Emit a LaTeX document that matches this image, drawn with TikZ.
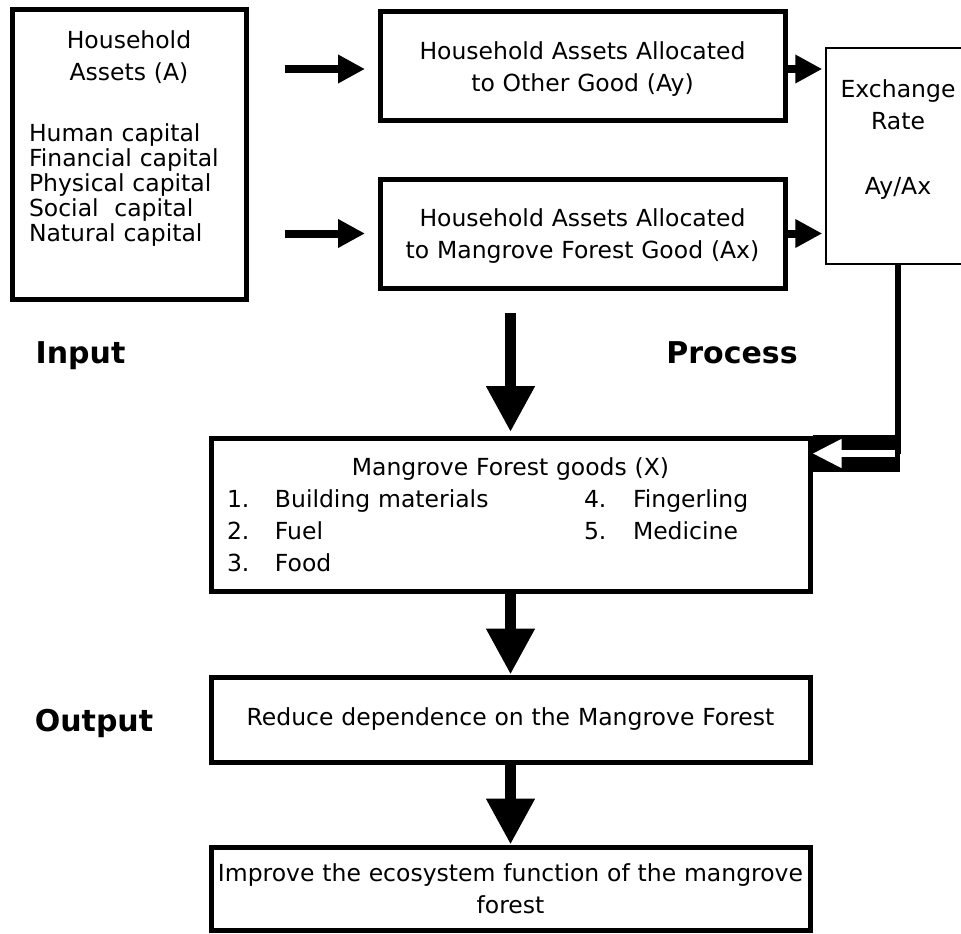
\documentclass[tikz,border=0pt]{standalone}
\usepackage{fontspec}
\setmainfont{DejaVu Sans}
\usetikzlibrary{arrows.meta,positioning,calc}

\begin{document}
\begin{tikzpicture}[
    x=1pt, y=-1pt,
    box/.style={draw, rectangle, line width=5pt, inner sep=0pt, align=center, font=\fontsize{23.5}{32}\selectfont},
    thinbox/.style={draw, rectangle, line width=1.5pt, inner sep=0pt, align=center, font=\fontsize{23.5}{32}\selectfont},
    stage/.style={anchor=base, font=\fontsize{30}{36}\selectfont\bfseries},
    smallarrow/.style={line width=8pt, -{Triangle[length=27pt, width=27pt]}},
    bigarrow/.style={line width=11pt, -{Triangle[length=46pt, width=46pt]}}
]
    \useasboundingbox (0,0) rectangle (961,934);

    % Input and process boxes (top row)
    \node[box, minimum width=234, minimum height=289, text width=200] (assets) at (129,154.5)
        {{\centering Household\\Assets (A)\par}\vspace{36pt}%
         {\raggedright\fontsize{23.5}{25}\selectfont Human capital\\Financial capital\\Physical capital\\Social~ capital\\Natural capital\rule[-36pt]{0pt}{0pt}\par}};
    \node[box, minimum width=405, minimum height=108, text width=390] (ay) at (582.5,66)
        {\rule{0pt}{24pt}Household Assets Allocated\\to Other Good (Ay)};
    \node[box, minimum width=405, minimum height=109, text width=390] (ax) at (582.5,233.5)
        {\rule{0pt}{22pt}Household Assets Allocated\\to Mangrove Forest Good (Ax)};
    \node[thinbox, minimum width=144, minimum height=216, text width=130] (xrate) at (898,156)
        {Exchange\\Rate\\[33pt]Ay/Ax\rule[-38pt]{0pt}{0pt}};

    % Output boxes (column)
    \node[box, minimum width=599, minimum height=153, text width=567] (goods) at (510.5,514.5)
        {{\centering Mangrove Forest goods (X)\par}%
         {\raggedright
         \makebox[48pt][l]{1.}\makebox[309pt][l]{Building materials}\makebox[49pt][l]{4.}Fingerling\\
         \makebox[48pt][l]{2.}\makebox[309pt][l]{Fuel}\makebox[49pt][l]{5.}Medicine\\
         \makebox[48pt][l]{3.}Food\par}};
    \node[box, minimum width=599, minimum height=85, text width=590] (reduce) at (510.5,719.5)
        {Reduce dependence on the Mangrove Forest};
    \node[box, minimum width=599, minimum height=83, text width=590] (improve) at (510.5,888.5)
        {Improve the ecosystem function of the mangrove\\forest};

    % Stage labels
    \node[stage] (input) at (80.5,363) {Input};
    \node[stage] (process) at (732,363) {Process};
    \node[stage] (output) at (94,731) {Output};

    % Arrows
    \draw[smallarrow, shorten <=36pt, shorten >=12.5pt] ([yshift=-3pt]assets.east |- ay.west) -- ([yshift=-3pt]ay.west);
    \draw[smallarrow, shorten <=36pt, shorten >=12.5pt] (assets.east |- ax.west) -- (ax.west);
    \draw[smallarrow, shorten >=3pt] ([yshift=-3pt]ay.east) -- ([yshift=-3pt]ay.east -| xrate.west);
    \draw[smallarrow, shorten >=3pt] (ax.east) -- (ax.east -| xrate.west);
    \draw[bigarrow, shorten <=22.5pt, shorten >=3.5pt] (ax.south -| goods.north) -- (goods.north);
    \draw[bigarrow] (goods.south) -- (reduce.north);
    \draw[bigarrow] (reduce.south) -- (improve.north);

    % Exchange rate back to the goods box
    \coordinate (bend) at (898,453.5);
    \draw[line width=6pt] (xrate.south) -- (bend);
    \draw[line width=37pt] ([xshift=2pt]bend) -- (bend -| goods.east);
    \draw[white, line width=7pt, -{Triangle[length=29pt, width=27pt]}] ([xshift=-3pt]bend) -- (bend -| goods.east);

\end{tikzpicture}
\end{document}
